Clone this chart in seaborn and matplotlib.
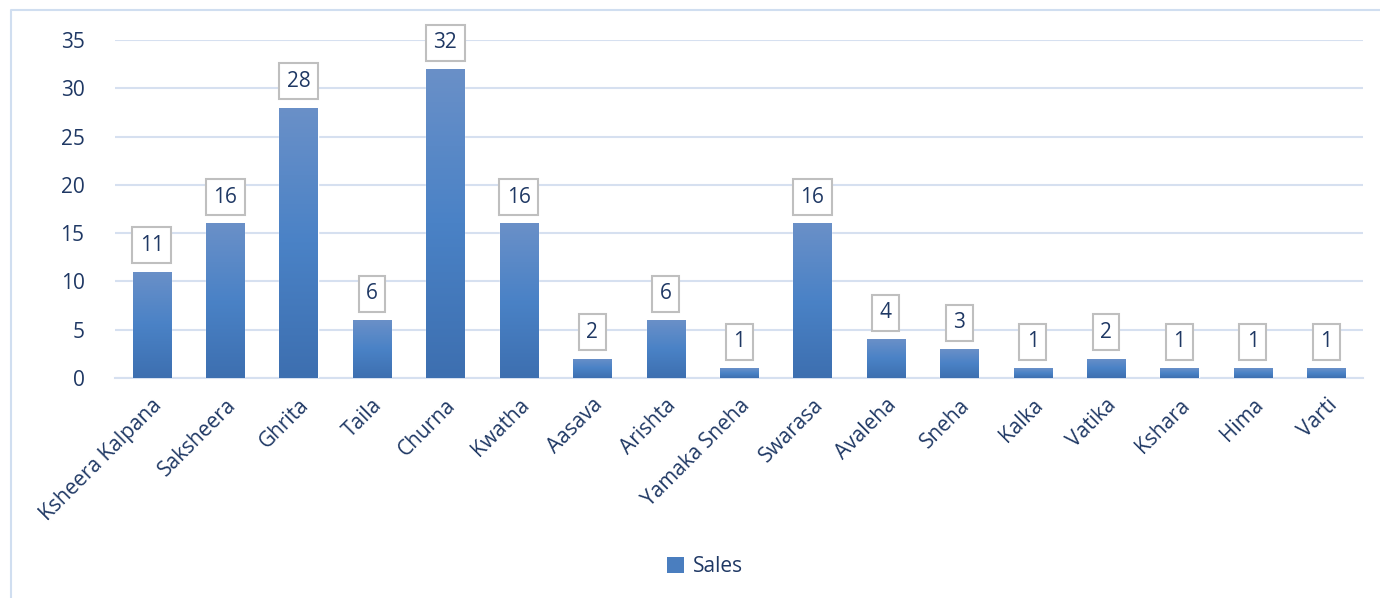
import numpy as np
import pandas as pd
import seaborn as sns
from matplotlib import pyplot as plt
from matplotlib.lines import Line2D
from matplotlib.patches import Patch
from matplotlib.colors import LinearSegmentedColormap

# data
categories = ['Ksheera Kalpana', 'Saksheera', 'Ghrita', 'Taila', 'Churna', 'Kwatha',
              'Aasava', 'Arishta', 'Yamaka Sneha', 'Swarasa', 'Avaleha', 'Sneha',
              'Kalka', 'Vatika', 'Kshara', 'Hima', 'Varti']
sales = [11, 16, 28, 6, 32, 16, 2, 6, 1, 16, 4, 3, 1, 2, 1, 1, 1]

df = pd.DataFrame({'Category': categories, 'Sales': sales})

sns.set_style('white')
plt.rcParams['font.family'] = ['Open Sans', 'DejaVu Sans']
txt_col = '#1f3864'
grid_col = '#d6e0f0'

fig = plt.figure(figsize=(13.8, 5.98), dpi=100)
# chart area border: only top and left edges show in the reference
fig.lines.append(Line2D([11 / 1380, 11 / 1380, 1], [0, 1 - 10 / 598, 1 - 10 / 598],
                        transform=fig.transFigure, color='#d0def0', linewidth=1.5))
ax = fig.add_axes([115 / 1380, 1 - 378 / 598, (1363 - 115) / 1380, (378 - 40) / 598])

sns.barplot(data=df, x='Category', y='Sales', color='#4a7ebf', width=0.52, ax=ax, zorder=3)

# gradient fill for each bar
cmap = LinearSegmentedColormap.from_list('grad', ['#3d6fb0', '#4a82c6', '#6a90c8'])
grad = np.linspace(0, 1, 256).reshape(-1, 1)
for p in ax.patches:
    x0, y0 = p.get_x(), p.get_y()
    w, h = p.get_width(), p.get_height()
    p.set_facecolor('none')
    im = ax.imshow(grad, cmap=cmap, aspect='auto', origin='lower',
                   extent=[x0, x0 + w, y0, y0 + h], zorder=3)
    im.set_clip_path(p)

# boxed value labels
for i, v in enumerate(sales):
    ax.annotate(str(v), (i, v), xytext=(0, 19), textcoords='offset points',
                ha='center', va='center', fontsize=15, color=txt_col,
                bbox=dict(boxstyle='square,pad=0.36', fc='white', ec='#bfbfbf', lw=1.5),
                zorder=5)

ax.set_xlim(-0.5, len(categories) - 0.5)
ax.set_ylim(0, 35)
ax.set_yticks(range(0, 36, 5))
ax.yaxis.grid(True, color=grid_col, linewidth=1.5, zorder=0)
ax.set_axisbelow(True)
for s in ['top', 'right', 'left']:
    ax.spines[s].set_visible(False)
ax.spines['bottom'].set_color(grid_col)
ax.spines['bottom'].set_linewidth(1.5)

ax.set_xticks(range(len(categories)))
ax.set_xticklabels(categories, rotation=45, ha='right', rotation_mode='anchor')
ax.set_xticks(np.arange(-0.5, len(categories), 1), minor=True)
ax.tick_params(axis='x', which='major', length=0, pad=12, labelsize=15, labelcolor=txt_col)
ax.tick_params(axis='x', which='minor', length=7, width=1.5, color=grid_col, direction='out')
ax.tick_params(axis='y', length=0, pad=22, labelsize=15, labelcolor=txt_col)
ax.set_xlabel('')
ax.set_ylabel('')

handle = Patch(facecolor='#4a7ebf', edgecolor='none')
fig.legend([handle], ['Sales'], loc='center', bbox_to_anchor=(705 / 1380, 1 - 567 / 598),
           frameon=False, fontsize=15, labelcolor=txt_col, handlelength=0.8, handleheight=0.8,
           handletextpad=0.4)

plt.savefig('out.png', dpi=100)
